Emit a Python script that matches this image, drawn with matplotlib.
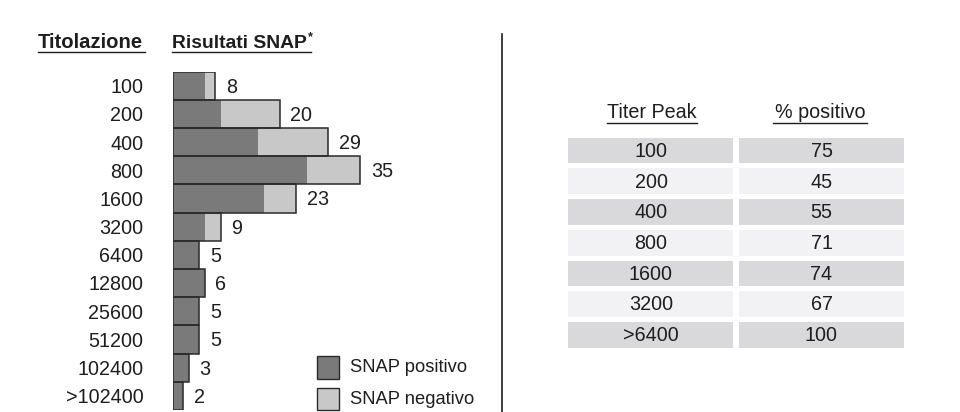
import matplotlib.pyplot as plt
from matplotlib.patches import Rectangle

plt.rcParams['font.family'] = ['Liberation Sans', 'DejaVu Sans']

# data
titers = ['100', '200', '400', '800', '1600', '3200', '6400', '12800',
          '25600', '51200', '102400', '>102400']
snap_pos = [6, 9, 16, 25, 17, 6, 5, 6, 5, 5, 3, 2]
snap_neg = [2, 11, 13, 10, 6, 3, 0, 0, 0, 0, 0, 0]

peak_titers = ['100', '200', '400', '800', '1600', '3200', '>6400']
pct_positive = [75, 45, 55, 71, 74, 67, 100]

DARK = '#7a7a7a'
LIGHT = '#c8c8c8'
EDGE = '#2a2a2a'
TXT = '#1e1e1e'
FS = 14.2

W, H = 960, 412
fig = plt.figure(figsize=(W / 100, H / 100), dpi=100)


def fx(px):
    return px / W


def fy(py):
    return 1 - py / H


# bar chart: left edge 172.5 px, 5.36 px per unit, rows 28.2 px
row_h = 28.2
top = 71.5
n = len(titers)
ax = fig.add_axes([fx(172.5), fy(top + n * row_h), fx(60 * 5.36), n * row_h / H])
y = list(range(n))
totals = [p + q for p, q in zip(snap_pos, snap_neg)]
ax.barh(y, snap_pos, height=1, color=DARK, linewidth=0)
ax.barh(y, snap_neg, left=snap_pos, height=1, color=LIGHT, linewidth=0)
ax.barh(y, totals, height=1, facecolor='none', edgecolor=EDGE, linewidth=1.1)
for yi, t in zip(y, totals):
    ax.text(t + 2.0, yi + 0.05, str(t), va='center', ha='left', fontsize=FS, color=TXT)
ax.set_xlim(0, 60)
ax.set_ylim(n - 0.5, -0.5)
ax.set_yticks(y)
ax.set_yticklabels(titers, fontsize=FS, color=TXT)
ax.tick_params(axis='y', length=0, pad=21)
ax.set_xticks([])
for s in ax.spines.values():
    s.set_visible(False)

# headers
fig.text(fx(38), fy(47.5), 'Titolazione', fontsize=14.6, fontweight='bold',
         va='baseline', ha='left', color=TXT)
fig.add_artist(plt.Line2D([fx(38), fx(145)], [fy(51.5), fy(51.5)], color=TXT, lw=1))
hdr = fig.text(fx(172), fy(47.5), 'Risultati SNAP', fontsize=13.9, fontweight='bold',
               va='baseline', ha='left', color=TXT)
fig.add_artist(plt.Line2D([fx(172), fx(311)], [fy(51.5), fy(51.5)], color=TXT, lw=1))
fig.canvas.draw()
bb = hdr.get_window_extent()
fig.text(bb.x1 / W + fx(1), fy(37), '*', fontsize=9, fontweight='bold',
         va='center', ha='left', color=TXT)

# legend
for (y0, col, lab) in [(356, DARK, 'SNAP positivo'), (387.5, LIGHT, 'SNAP negativo')]:
    fig.add_artist(Rectangle((fx(317), fy(y0 + 22.5)), fx(22), 22.5 / H,
                             facecolor=col, edgecolor=EDGE, linewidth=1))
    fig.text(fx(350.5), fy(y0 + 11.5), lab, fontsize=13.2, va='center', ha='left',
             color=TXT)

# divider
fig.add_artist(plt.Line2D([fx(502), fx(502)], [fy(34), 0], color=TXT, lw=1.2))

# table
t_top = 132.7
pitch = 30.7
m = len(peak_titers)
tax = fig.add_axes([fx(560), fy(t_top + m * pitch), fx(360), m * pitch / H])
ty = list(range(m))
row_cols = ['#d9d9db' if i % 2 == 0 else '#f2f2f4' for i in ty]
tax.barh(ty, [165] * m, left=8.3, height=25.7 / pitch, color=row_cols, linewidth=0)
tax.barh(ty, [165] * m, left=179, height=25.7 / pitch, color=row_cols, linewidth=0)
for i in ty:
    tax.text(91, i + 0.03, peak_titers[i], ha='center', va='center', fontsize=FS, color=TXT)
    tax.text(261.5, i + 0.03, str(pct_positive[i]), ha='center', va='center', fontsize=FS,
             color=TXT)
tax.set_xlim(0, 360)
tax.set_ylim(m - 0.5 - 5 / pitch / 2, -0.5 - 5 / pitch / 2)
tax.axis('off')

fig.text(fx(652), fy(112), 'Titer Peak', fontsize=FS, ha='center', va='center',
         color=TXT)
fig.add_artist(plt.Line2D([fx(607), fx(697)], [fy(123), fy(123)], color=TXT, lw=1))
fig.text(fx(820), fy(112), '% positivo', fontsize=FS, ha='center', va='center',
         color=TXT)
fig.add_artist(plt.Line2D([fx(773), fx(867)], [fy(123), fy(123)], color=TXT, lw=1))

fig.savefig('out.png', dpi=100)
